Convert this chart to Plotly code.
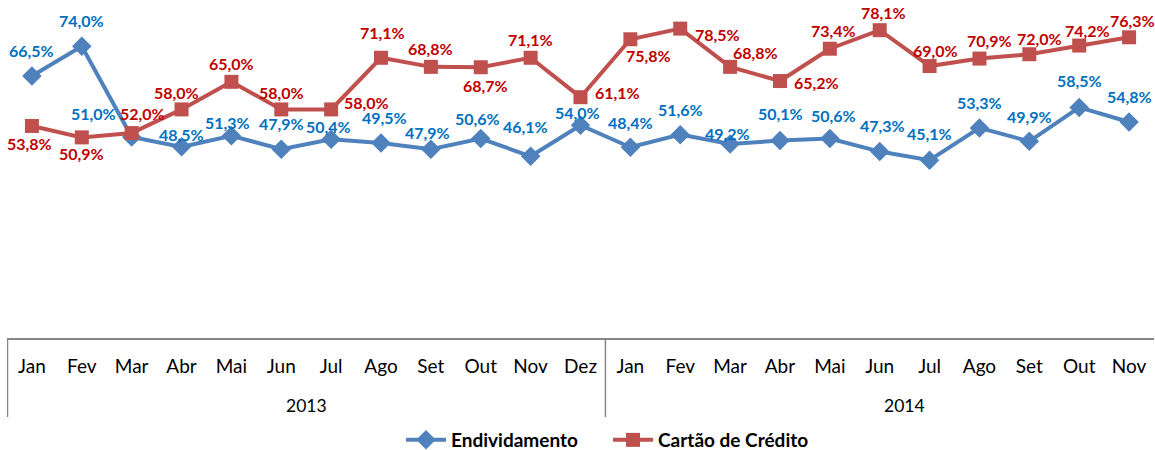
import plotly.graph_objects as go

months = ["Jan", "Fev", "Mar", "Abr", "Mai", "Jun", "Jul", "Ago", "Set", "Out", "Nov", "Dez",
          "Jan", "Fev", "Mar", "Abr", "Mai", "Jun", "Jul", "Ago", "Set", "Out", "Nov"]
years = ["2013", "2014"]
endividamento = [66.5, 74.0, 51.0, 48.5, 51.3, 47.9, 50.4, 49.5, 47.9, 50.6, 46.1, 54.0,
                 48.4, 51.6, 49.2, 50.1, 50.6, 47.3, 45.1, 53.3, 49.9, 58.5, 54.8]
cartao = [53.8, 50.9, 52.0, 58.0, 65.0, 58.0, 58.0, 71.1, 68.8, 68.7, 71.1, 61.1,
          75.8, 78.5, 68.8, 65.2, 73.4, 78.1, 69.0, 70.9, 72.0, 74.2, 76.3]

# label offsets (pixels: dx right, dy down) -- styling only
blue_off = [(0, -25), (0, -26), (-38, -24), (0, -12), (-4, -13), (0, -26), (-3, -13), (3, -25),
            (-3, -17), (-3, -20), (-5, -30), (-3, -13), (0, -25), (0, -25), (-3, -11), (1, -27),
            (4, -23), (3, -26), (0, -27), (0, -25), (0, -25), (0, -27), (0, -26)]
red_off = [(-2, 18), (0, 16), (11, -20), (-5, -17), (0, -18), (0, -17), (35, -7), (1, -25),
           (0, -18), (5, 18), (0, -18), (37, -5), (18, 16), (37, 6), (25, -14), (37, 1),
           (4, -18), (4, -18), (6, -16), (10, -18), (10, -16), (8, -15), (3, -17)]

x = list(range(len(months)))
FONT = "Lato"

fig = go.Figure()
fig.add_trace(go.Scatter(
    x=x, y=endividamento, name="Endividamento", mode="lines+markers",
    line=dict(color="#4F81BD", width=4),
    marker=dict(symbol="diamond", size=15, color="#4F81BD"),
))
fig.add_trace(go.Scatter(
    x=x, y=cartao, name="Cartão de Crédito", mode="lines+markers",
    line=dict(color="#C0504D", width=4),
    marker=dict(symbol="square", size=14, color="#C0504D"),
))

annotations = []
for xi, v, (dx, dy) in zip(x, endividamento, blue_off):
    annotations.append(dict(x=xi, y=v, xref="x", yref="y", text=f"{v:.1f}%".replace(".", ","),
                            showarrow=False, xshift=dx, yshift=-dy,
                            font=dict(family=FONT, size=16, color="#0070C0", weight="bold")))
for xi, v, (dx, dy) in zip(x, cartao, red_off):
    annotations.append(dict(x=xi, y=v, xref="x", yref="y", text=f"{v:.1f}%".replace(".", ","),
                            showarrow=False, xshift=dx, yshift=-dy,
                            font=dict(family=FONT, size=16, color="#C00000", weight="bold")))
# year labels
for yr, cx in zip(years, [5.5, 17.5]):
    annotations.append(dict(x=cx, y=-0.2, xref="x", yref="paper", text=yr, showarrow=False,
                            yanchor="middle", font=dict(family=FONT, size=17.5, color="#000000")))

shapes = []
for sx in [-0.49, 11.5]:
    shapes.append(dict(type="line", x0=sx, x1=sx, xref="x", y0=0, y1=-0.236, yref="paper",
                       line=dict(color="#868686", width=1.5)))

fig.update_layout(
    width=1155, height=460,
    margin=dict(l=7, r=1, t=3, b=122),
    plot_bgcolor="white", paper_bgcolor="white",
    showlegend=True,
    legend=dict(orientation="h", x=0.524, xanchor="center", y=-0.3045, yanchor="middle",
                font=dict(family=FONT, size=19, color="#000000", weight="bold"),
                itemwidth=40, entrywidth=152, entrywidthmode="pixels", traceorder="normal"),
    annotations=annotations,
    shapes=shapes,
    xaxis=dict(range=[-0.5, 22.5], tickmode="array", tickvals=x, ticktext=months,
               showgrid=False, zeroline=False, showline=True, linecolor="#868686", linewidth=1.5,
               ticks="", tickfont=dict(family=FONT, size=19, color="#000000"),
               ticklabelstandoff=10, automargin=False),
    yaxis=dict(range=[0, 85], visible=False, showgrid=False, zeroline=False, automargin=False),
)

post = (
    "document.body.style.margin='0';document.body.style.overflow='hidden';"
    "document.documentElement.style.overflow='hidden';"
)
fig.write_html("out.html", config={"displayModeBar": False}, post_script=post)
